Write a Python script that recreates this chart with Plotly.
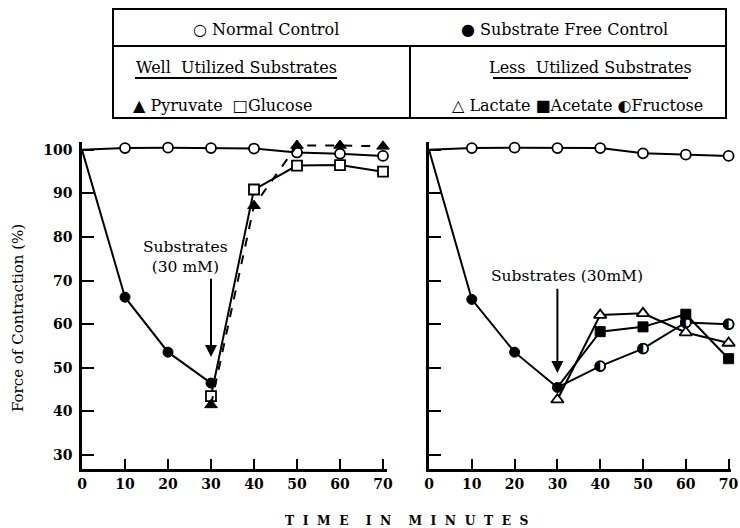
import plotly.graph_objects as go

# ---------------- data ----------------
time = [0, 10, 20, 30, 40, 50, 60, 70]
time_free = [0, 10, 20, 30]
time_after = [30, 40, 50, 60, 70]

# Left panel (well utilized substrates)
normal_left = [100, 100.4, 100.5, 100.4, 100.3, 99.4, 99.1, 98.6]
free_left = [100, 66.2, 53.6, 46.5]
pyruvate = [41.5, 87.2, 101.0, 101.0, 100.8]
glucose = [43.5, 90.9, 96.4, 96.5, 95.0]

# Right panel (less utilized substrates)
normal_right = [100, 100.4, 100.5, 100.4, 100.4, 99.2, 98.9, 98.6]
free_right = [100, 65.7, 53.6, 45.5]
lactate = [42.7, 62.1, 62.5, 58.1, 55.7]
acetate = [45.5, 58.3, 59.4, 62.3, 52.1]
fructose = [45.5, 50.4, 54.4, 60.4, 60.0]

x_ticks = [0, 10, 20, 30, 40, 50, 60, 70]
y_ticks = [30, 40, 50, 60, 70, 80, 90, 100]

SERIF = "DejaVu Serif"
BLACK = "black"
W, H = 740, 528

fig = go.Figure()

def px_x(p):
    return p / W

def px_y(p):
    return 1 - p / H

open_marker = dict(symbol="circle", size=10, color="white", line=dict(color=BLACK, width=1.8))
filled_marker = dict(symbol="circle", size=10, color=BLACK, line=dict(color=BLACK, width=1))

def add(x, y, xa, ya, mode, marker=None, dash="solid", show_first=True, name=""):
    m = dict(marker) if marker else None
    if m is not None and not show_first:
        m["opacity"] = [0] + [1] * (len(x) - 1)
    fig.add_trace(go.Scatter(
        x=x, y=y, xaxis=xa, yaxis=ya, mode=mode, name=name,
        line=dict(color=BLACK, width=2, dash=dash),
        marker=m, cliponaxis=False, showlegend=False, hoverinfo="x+y"))

# ---- left panel ----
add(time, normal_left, "x", "y", "lines+markers", open_marker, show_first=False, name="Normal Control")
add(time_free, free_left, "x", "y", "lines+markers", filled_marker, show_first=False, name="Substrate Free Control")
add(time_after, glucose, "x", "y", "lines+markers",
    dict(symbol="square", size=10, color="white", line=dict(color=BLACK, width=1.8)), name="Glucose")
add(time_after, pyruvate, "x", "y", "lines+markers",
    dict(symbol="triangle-up", size=11, color=BLACK, line=dict(color=BLACK, width=1)), dash="dash", name="Pyruvate")

# ---- right panel ----
add(time, normal_right, "x2", "y2", "lines+markers", open_marker, show_first=False, name="Normal Control")
add(time_after, fructose, "x2", "y2", "lines", None, name="Fructose")
fig.add_trace(go.Scatter(x=time_after[1:], y=fructose[1:], xaxis="x2", yaxis="y2", mode="markers",
                         marker=open_marker, cliponaxis=False, showlegend=False, hoverinfo="skip"))
fig.add_trace(go.Scatter(x=time_after[1:], y=fructose[1:], xaxis="x2", yaxis="y2", mode="text",
                         text=["◐"] * 4, textposition="middle center",
                         textfont=dict(family="DejaVu Sans", size=14, color=BLACK),
                         cliponaxis=False, showlegend=False, hoverinfo="skip"))
add(time_after, acetate, "x2", "y2", "lines+markers",
    dict(symbol="square", size=10, color=BLACK, line=dict(color=BLACK, width=1)), show_first=False, name="Acetate")
add(time_after, lactate, "x2", "y2", "lines+markers",
    dict(symbol="triangle-up", size=11, color="white", line=dict(color=BLACK, width=1.8)), name="Lactate")
add(time_free, free_right, "x2", "y2", "lines+markers", filled_marker, show_first=False, name="Substrate Free Control")

# ---------------- axes ----------------
y_dom = [px_y(469), px_y(142)]
y_range = [26.8, 101.8]
common_x = dict(range=[0, 71], tickvals=x_ticks, ticks="inside", ticklen=10, tickwidth=2,
                tickcolor=BLACK, showline=True, linecolor=BLACK, linewidth=2.5,
                showgrid=False, zeroline=False, automargin=False, ticklabeloverflow="allow",
                tickfont=dict(family=SERIF, size=14, color=BLACK, weight="bold"))
common_y = dict(range=y_range, tickvals=y_ticks, ticks="inside", ticklen=12, tickwidth=2,
                tickcolor=BLACK, showline=True, linecolor=BLACK, linewidth=2.5,
                showgrid=False, zeroline=False, automargin=False, domain=y_dom,
                tickfont=dict(family=SERIF, size=14, color=BLACK, weight="bold"))

fig.update_layout(
    width=W, height=H,
    margin=dict(l=0, r=0, t=0, b=0),
    paper_bgcolor="white", plot_bgcolor="white",
    xaxis=dict(common_x, domain=[px_x(82), px_x(82 + 71 * 4.3)], anchor="y"),
    yaxis=dict(common_y, anchor="x", ticklabelstandoff=4),
    xaxis2=dict(common_x, range=[0, 70.5], domain=[px_x(429), px_x(429 + 70.5 * 4.28)], anchor="y2"),
    yaxis2=dict(common_y, anchor="x2", showticklabels=False),
    showlegend=False,
)

# ---------------- annotations ----------------
def pann(x, y, text, font, **kw):
    d = dict(x=px_x(x), y=px_y(y), xref="paper", yref="paper", text=text, showarrow=False,
             xanchor="center", yanchor="middle", font=font)
    d.update(kw)
    return d

ann = []
ann.append(dict(x=30, y=52.5, ax=30, ay=70.8, xref="x", yref="y", axref="x", ayref="y",
                text="", showarrow=True, arrowhead=2, arrowsize=1.2, arrowwidth=2, arrowcolor=BLACK))
ann.append(dict(x=24, y=75.4, xref="x", yref="y", text="Substrates<br>(30 mM)", showarrow=False,
                xanchor="center", yanchor="middle",
                font=dict(family=SERIF, size=15.5, color=BLACK), align="center"))
ann.append(dict(x=30, y=48.8, ax=30, ay=68.5, xref="x2", yref="y2", axref="x2", ayref="y2",
                text="", showarrow=True, arrowhead=2, arrowsize=1.2, arrowwidth=2, arrowcolor=BLACK))
ann.append(dict(x=32.3, y=71.0, xref="x2", yref="y2", text="Substrates (30mM)", showarrow=False,
                xanchor="center", yanchor="middle",
                font=dict(family=SERIF, size=15.5, color=BLACK)))

# axis titles
ann.append(pann(18, 318, "Force of Contraction (%)", dict(family=SERIF, size=15, color=BLACK),
                textangle=-90))
sp = "&nbsp;&nbsp;"
title_x = (sp.join("TIME")) + sp * 2 + (sp.join("IN")) + sp * 2 + (sp.join("MINUTES"))
ann.append(pann(407, 520, title_x, dict(family=SERIF, size=12.3, color=BLACK, weight="bold")))

# legend box texts
legend_font = dict(family=SERIF, size=16, color=BLACK)
ann.append(pann(266, 30, "○ Normal Control", legend_font))
ann.append(pann(564, 30, "● Substrate Free Control", legend_font))
ann.append(pann(236, 67, "Well&nbsp; Utilized Substrates", legend_font))
ann.append(pann(590, 67, "Less&nbsp; Utilized Substrates", legend_font))
ann.append(pann(223, 105, "▲ Pyruvate &nbsp;□Glucose", legend_font))
ann.append(pann(577, 105, "△ Lactate ■Acetate ◐Fructose", legend_font))
fig.update_layout(annotations=ann)

# legend box frame
shapes = []
lw = dict(color=BLACK, width=2)
shapes.append(dict(type="rect", xref="paper", yref="paper", x0=px_x(113), x1=px_x(726),
                   y0=px_y(118), y1=px_y(9), line=lw))
shapes.append(dict(type="line", xref="paper", yref="paper", x0=px_x(113), x1=px_x(726),
                   y0=px_y(46), y1=px_y(46), line=lw))
shapes.append(dict(type="line", xref="paper", yref="paper", x0=px_x(410), x1=px_x(410),
                   y0=px_y(46), y1=px_y(118), line=lw))
shapes.append(dict(type="line", xref="paper", yref="paper", x0=px_x(135), x1=px_x(337),
                   y0=px_y(78), y1=px_y(78), line=lw))
shapes.append(dict(type="line", xref="paper", yref="paper", x0=px_x(493), x1=px_x(688),
                   y0=px_y(78), y1=px_y(78), line=lw))
fig.update_layout(shapes=shapes)

fig.write_html("out.html", config={"displayModeBar": False},
               post_script="document.body.style.margin='0';document.body.style.overflow='hidden';")
